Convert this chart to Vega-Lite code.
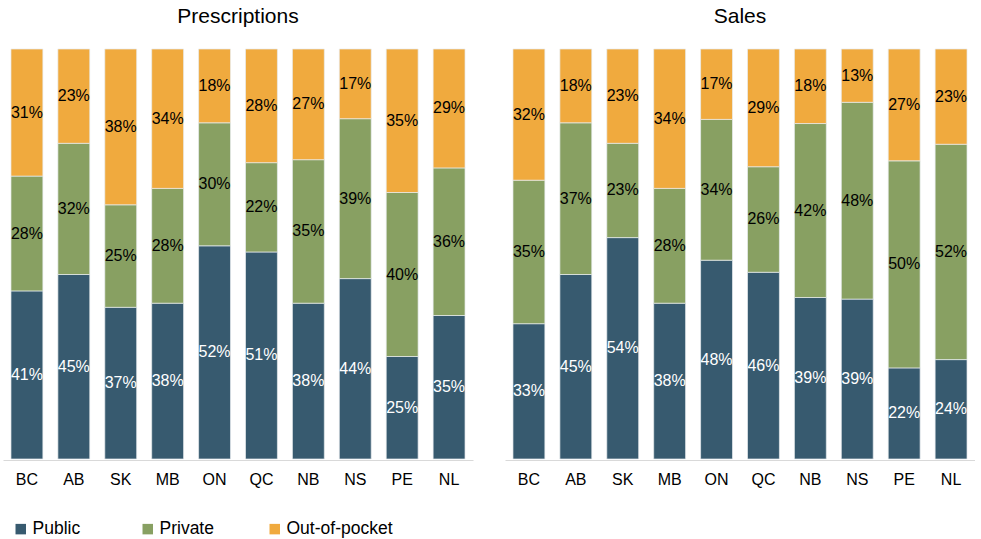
{
  "$schema": "https://vega.github.io/schema/vega-lite/v6.json",
  "padding": {"left": 3, "top": 6, "right": 0, "bottom": 0},
  "data": {"values": [
    {"panel":"Prescriptions","prov":"BC","group":"Public","k":1,"value":0.41},
    {"panel":"Prescriptions","prov":"BC","group":"Private","k":2,"value":0.28},
    {"panel":"Prescriptions","prov":"BC","group":"Out-of-pocket","k":3,"value":0.31},
    {"panel":"Prescriptions","prov":"AB","group":"Public","k":1,"value":0.45},
    {"panel":"Prescriptions","prov":"AB","group":"Private","k":2,"value":0.32},
    {"panel":"Prescriptions","prov":"AB","group":"Out-of-pocket","k":3,"value":0.23},
    {"panel":"Prescriptions","prov":"SK","group":"Public","k":1,"value":0.37},
    {"panel":"Prescriptions","prov":"SK","group":"Private","k":2,"value":0.25},
    {"panel":"Prescriptions","prov":"SK","group":"Out-of-pocket","k":3,"value":0.38},
    {"panel":"Prescriptions","prov":"MB","group":"Public","k":1,"value":0.38},
    {"panel":"Prescriptions","prov":"MB","group":"Private","k":2,"value":0.28},
    {"panel":"Prescriptions","prov":"MB","group":"Out-of-pocket","k":3,"value":0.34},
    {"panel":"Prescriptions","prov":"ON","group":"Public","k":1,"value":0.52},
    {"panel":"Prescriptions","prov":"ON","group":"Private","k":2,"value":0.30},
    {"panel":"Prescriptions","prov":"ON","group":"Out-of-pocket","k":3,"value":0.18},
    {"panel":"Prescriptions","prov":"QC","group":"Public","k":1,"value":0.51},
    {"panel":"Prescriptions","prov":"QC","group":"Private","k":2,"value":0.22},
    {"panel":"Prescriptions","prov":"QC","group":"Out-of-pocket","k":3,"value":0.28},
    {"panel":"Prescriptions","prov":"NB","group":"Public","k":1,"value":0.38},
    {"panel":"Prescriptions","prov":"NB","group":"Private","k":2,"value":0.35},
    {"panel":"Prescriptions","prov":"NB","group":"Out-of-pocket","k":3,"value":0.27},
    {"panel":"Prescriptions","prov":"NS","group":"Public","k":1,"value":0.44},
    {"panel":"Prescriptions","prov":"NS","group":"Private","k":2,"value":0.39},
    {"panel":"Prescriptions","prov":"NS","group":"Out-of-pocket","k":3,"value":0.17},
    {"panel":"Prescriptions","prov":"PE","group":"Public","k":1,"value":0.25},
    {"panel":"Prescriptions","prov":"PE","group":"Private","k":2,"value":0.40},
    {"panel":"Prescriptions","prov":"PE","group":"Out-of-pocket","k":3,"value":0.35},
    {"panel":"Prescriptions","prov":"NL","group":"Public","k":1,"value":0.35},
    {"panel":"Prescriptions","prov":"NL","group":"Private","k":2,"value":0.36},
    {"panel":"Prescriptions","prov":"NL","group":"Out-of-pocket","k":3,"value":0.29},
    {"panel":"Sales","prov":"BC","group":"Public","k":1,"value":0.33},
    {"panel":"Sales","prov":"BC","group":"Private","k":2,"value":0.35},
    {"panel":"Sales","prov":"BC","group":"Out-of-pocket","k":3,"value":0.32},
    {"panel":"Sales","prov":"AB","group":"Public","k":1,"value":0.45},
    {"panel":"Sales","prov":"AB","group":"Private","k":2,"value":0.37},
    {"panel":"Sales","prov":"AB","group":"Out-of-pocket","k":3,"value":0.18},
    {"panel":"Sales","prov":"SK","group":"Public","k":1,"value":0.54},
    {"panel":"Sales","prov":"SK","group":"Private","k":2,"value":0.23},
    {"panel":"Sales","prov":"SK","group":"Out-of-pocket","k":3,"value":0.23},
    {"panel":"Sales","prov":"MB","group":"Public","k":1,"value":0.38},
    {"panel":"Sales","prov":"MB","group":"Private","k":2,"value":0.28},
    {"panel":"Sales","prov":"MB","group":"Out-of-pocket","k":3,"value":0.34},
    {"panel":"Sales","prov":"ON","group":"Public","k":1,"value":0.48},
    {"panel":"Sales","prov":"ON","group":"Private","k":2,"value":0.34},
    {"panel":"Sales","prov":"ON","group":"Out-of-pocket","k":3,"value":0.17},
    {"panel":"Sales","prov":"QC","group":"Public","k":1,"value":0.46},
    {"panel":"Sales","prov":"QC","group":"Private","k":2,"value":0.26},
    {"panel":"Sales","prov":"QC","group":"Out-of-pocket","k":3,"value":0.29},
    {"panel":"Sales","prov":"NB","group":"Public","k":1,"value":0.39},
    {"panel":"Sales","prov":"NB","group":"Private","k":2,"value":0.42},
    {"panel":"Sales","prov":"NB","group":"Out-of-pocket","k":3,"value":0.18},
    {"panel":"Sales","prov":"NS","group":"Public","k":1,"value":0.39},
    {"panel":"Sales","prov":"NS","group":"Private","k":2,"value":0.48},
    {"panel":"Sales","prov":"NS","group":"Out-of-pocket","k":3,"value":0.13},
    {"panel":"Sales","prov":"PE","group":"Public","k":1,"value":0.22},
    {"panel":"Sales","prov":"PE","group":"Private","k":2,"value":0.50},
    {"panel":"Sales","prov":"PE","group":"Out-of-pocket","k":3,"value":0.27},
    {"panel":"Sales","prov":"NL","group":"Public","k":1,"value":0.24},
    {"panel":"Sales","prov":"NL","group":"Private","k":2,"value":0.52},
    {"panel":"Sales","prov":"NL","group":"Out-of-pocket","k":3,"value":0.23}
  ]},
  "facet": {
    "column": {
      "field": "panel", "type": "nominal", "sort": ["Prescriptions", "Sales"],
      "header": {"title": null, "labelFontSize": 21, "labelFont": "Liberation Sans", "labelColor": "black", "labelPadding": 21}
    }
  },
  "spacing": 32,
  "spec": {
    "width": 470,
    "height": 410,
    "transform": [
      {"stack": "value", "groupby": ["panel", "prov"], "sort": [{"field": "k", "order": "ascending"}], "offset": "normalize", "as": ["v0", "v1"]}
    ],
    "encoding": {
      "x": {
        "field": "prov", "type": "nominal",
        "sort": ["BC","AB","SK","MB","ON","QC","NB","NS","PE","NL"],
        "title": null,
        "scale": {"paddingInner": 0.32, "paddingOuter": 0.17},
        "axis": {"labelAngle": 0, "ticks": false, "domainColor": "#d9d9d9", "domainWidth": 1, "labelFontSize": 16, "labelColor": "black", "labelFont": "Liberation Sans", "labelPadding": 11}
      }
    },
    "layer": [
      {
        "mark": {"type": "bar", "stroke": "#e8ecef", "strokeWidth": 0.7},
        "encoding": {
          "y": {"field": "v0", "type": "quantitative", "axis": null, "scale": {"domain": [0, 1]}},
          "y2": {"field": "v1"},
          "color": {
            "field": "group", "type": "nominal",
            "sort": ["Public", "Private", "Out-of-pocket"],
            "scale": {"domain": ["Public", "Private", "Out-of-pocket"], "range": ["#375A6F", "#88A062", "#F0AA3E"]},
            "legend": {
              "title": null, "orient": "none", "direction": "horizontal",
              "legendX": 9, "legendY": 471,
              "symbolType": "square", "symbolSize": 110, "symbolStrokeWidth": 0,
              "labelFontSize": 17.5, "labelFont": "Liberation Sans", "labelColor": "black",
              "gridAlign": "all", "columnPadding": 0, "labelOffset": 3
            }
          }
        }
      },
      {
        "transform": [
          {"fold": ["v0", "v1"], "as": ["edge", "pos"]},
          {"aggregate": [{"op": "mean", "field": "pos", "as": "mid"}], "groupby": ["panel", "prov", "group", "value"]}
        ],
        "mark": {"type": "text", "fontSize": 16, "font": "Liberation Sans", "baseline": "middle"},
        "encoding": {
          "y": {"field": "mid", "type": "quantitative", "axis": null, "scale": {"domain": [0, 1]}},
          "text": {"field": "value", "type": "quantitative", "format": ".0%"},
          "color": {"condition": {"test": "datum.group === 'Public'", "value": "white"}, "value": "black"}
        }
      }
    ]
  },
  "config": {"view": {"stroke": null}}
}
